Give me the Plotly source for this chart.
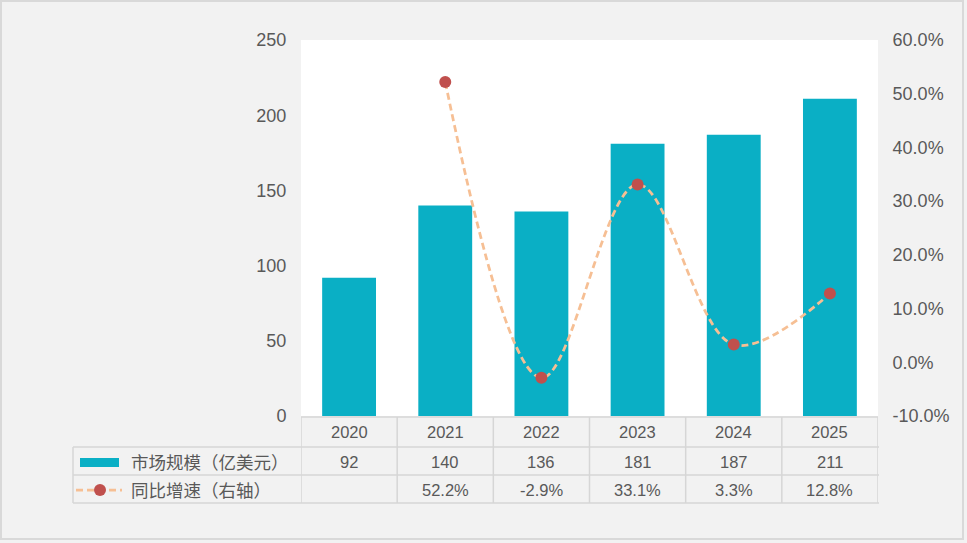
import plotly.graph_objects as go

years = ["2020", "2021", "2022", "2023", "2024", "2025"]
market = [92, 140, 136, 181, 187, 211]
growth = [None, 52.2, -2.9, 33.1, 3.3, 12.8]
bar_name = "市场规模（亿美元）"
line_name = "同比增速（右轴）"
left_ticks = [0, 50, 100, 150, 200, 250]
right_ticks = [-10, 0, 10, 20, 30, 40, 50, 60]
right_tick_text = ["-10.0%", "0.0%", "10.0%", "20.0%", "30.0%", "40.0%", "50.0%", "60.0%"]

W, H = 967, 543
def px(x): return x / W
def py(y): return 1 - y / H

BAR = "#0aafc5"
LINE = "#f6bf94"
MARK = "#c0504d"
TXT = "#595959"
GRID = "#d6d6d6"

xs = list(range(len(years)))

fig = go.Figure()
fig.add_trace(go.Bar(x=xs, y=market, width=0.56, marker=dict(color=BAR, line=dict(width=0)),
                     name=bar_name, yaxis="y"))
fig.add_trace(go.Scatter(x=xs, y=growth, mode="lines+markers", yaxis="y2", name=line_name,
                         line=dict(color=LINE, width=2.75, dash="7px,4px", shape="spline", smoothing=1.0),
                         marker=dict(color=MARK, size=12), connectgaps=False))

shapes = []
annotations = []
# outer border
shapes.append(dict(type="rect", xref="paper", yref="paper", x0=px(1), x1=px(963), y0=py(539), y1=py(1),
                   line=dict(color="#d9d9d9", width=2), layer="below"))

ly = dict(color=GRID, width=1.5)
# horizontal table lines
shapes.append(dict(type="line", xref="x", yref="paper", x0=-0.5, x1=5.5, y0=py(417), y1=py(417), line=ly))
for yy in [447, 475, 503]:
    shapes.append(dict(type="line", xref="paper", yref="paper", x0=px(73), x1=px(879), y0=py(yy), y1=py(yy), line=ly))
# vertical lines
shapes.append(dict(type="line", xref="paper", yref="paper", x0=px(73), x1=px(73), y0=py(447), y1=py(503), line=ly))
for i in range(len(years) + 1):
    shapes.append(dict(type="line", xref="x", yref="paper", x0=i - 0.5, x1=i - 0.5, y0=py(417), y1=py(503), line=ly))

tfont = dict(family="Liberation Sans, Arial", size=16.5, color=TXT)
for i, yr in enumerate(years):
    annotations.append(dict(x=i, y=py(432), xref="x", yref="paper", text=yr, showarrow=False, font=tfont,
                            yanchor="middle", xanchor="center"))
    annotations.append(dict(x=i, y=py(461.5), xref="x", yref="paper", text=str(market[i]), showarrow=False,
                            font=tfont, yanchor="middle", xanchor="center"))
    if growth[i] is not None:
        annotations.append(dict(x=i, y=py(489.5), xref="x", yref="paper", text=f"{growth[i]:.1f}%",
                                showarrow=False, font=tfont, yanchor="middle", xanchor="center"))

cfont = dict(family="Noto Sans CJK SC", size=17.5, color=TXT)
annotations.append(dict(x=px(129), y=py(461.5), xref="paper", yref="paper", text=bar_name, showarrow=False,
                        xanchor="left", yanchor="middle", font=cfont))
annotations.append(dict(x=px(129), y=py(489.5), xref="paper", yref="paper", text=line_name, showarrow=False,
                        xanchor="left", yanchor="middle", font=cfont))
# legend keys
shapes.append(dict(type="rect", xref="paper", yref="paper", x0=px(80), x1=px(119), y0=py(467), y1=py(458),
                   fillcolor=BAR, line=dict(width=0)))
shapes.append(dict(type="line", xref="paper", yref="paper", x0=px(76), x1=px(122), y0=py(490), y1=py(490),
                   line=dict(color=LINE, width=2.75, dash="7px,4px")))
shapes.append(dict(type="circle", xref="paper", yref="paper", x0=px(94), x1=px(106), y0=py(496), y1=py(484),
                   fillcolor=MARK, line=dict(width=0)))

afont = dict(family="Liberation Sans, Arial", size=18, color=TXT)
fig.update_layout(
    width=W, height=H,
    margin=dict(l=0, r=0, t=0, b=0, autoexpand=False),
    paper_bgcolor="#f2f2f2", plot_bgcolor="white",
    showlegend=False,
    xaxis=dict(domain=[px(301), px(878)], range=[-0.5, 5.5], showticklabels=False, showgrid=False,
               zeroline=False, showline=False, ticks="", automargin=False),
    yaxis=dict(domain=[py(416), py(40)], range=[0, 250], tickvals=left_ticks, showgrid=False, zeroline=False,
               showline=False, ticks="outside", ticklen=10, tickcolor="rgba(0,0,0,0)", tickfont=afont,
               automargin=False),
    yaxis2=dict(overlaying="y", side="right", range=[-10, 60], tickvals=right_ticks, ticktext=right_tick_text,
                showgrid=False, zeroline=False, showline=False, ticks="outside", ticklen=10,
                tickcolor="rgba(0,0,0,0)", tickfont=afont, automargin=False),
    shapes=shapes, annotations=annotations,
)
fig.write_html("out.html", config={"displayModeBar": False},
               post_script="document.body.style.margin='0';document.body.style.padding='0';")
